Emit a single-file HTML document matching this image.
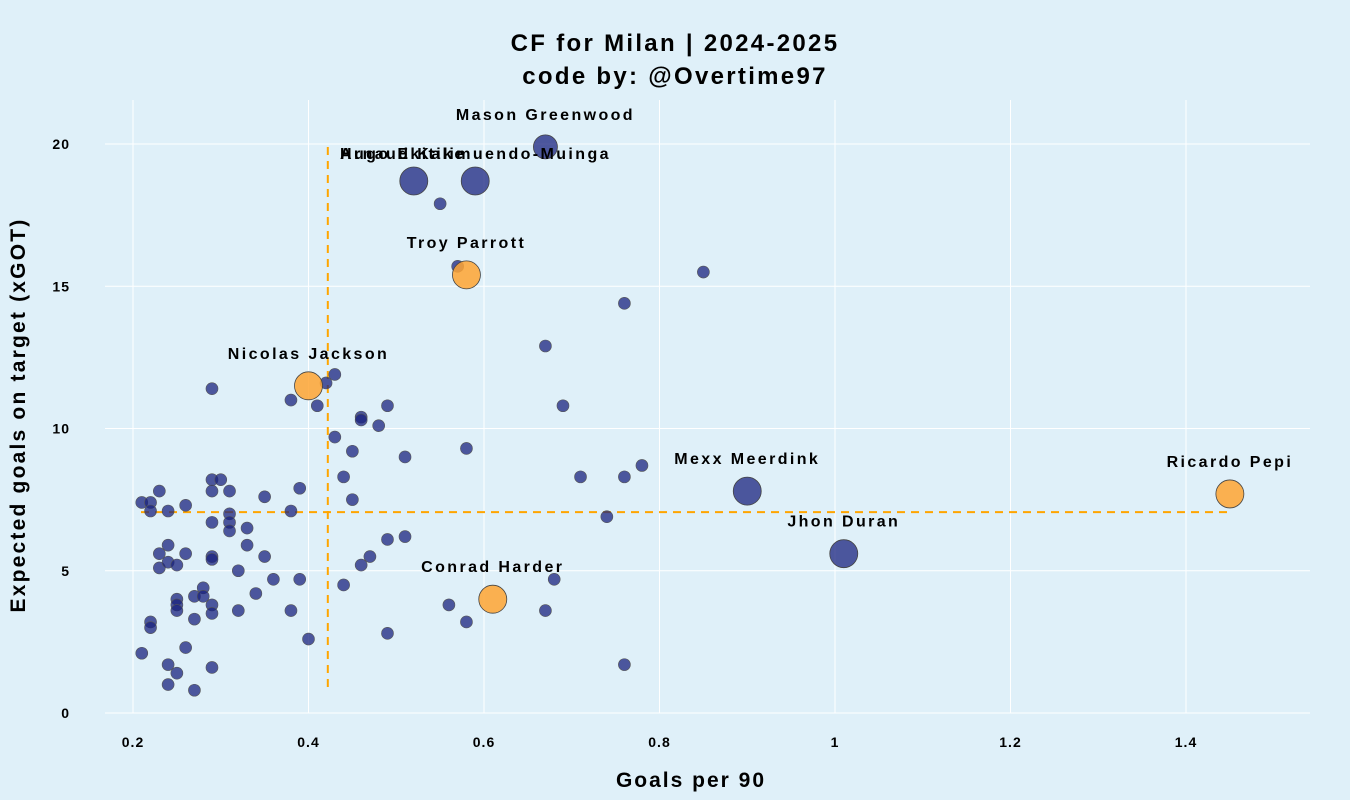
<!DOCTYPE html>
<html><head><meta charset="utf-8"><style>
body{margin:0;background:#dff0f9;}
svg{display:block;font-family:"Liberation Sans",Arial,sans-serif;font-weight:bold;}
</style></head><body>
<svg id="chart" width="1350" height="800">
<rect width="1350" height="800" fill="#dff0f9"/>
<text x="675" y="51" text-anchor="middle" font-size="24" letter-spacing="2.3">CF for Milan | 2024-2025</text>
<text x="675" y="84" text-anchor="middle" font-size="24" letter-spacing="2.3">code by: @Overtime97</text>
<text x="691" y="787" text-anchor="middle" font-size="21" letter-spacing="2">Goals per 90</text>
<text transform="translate(25,415) rotate(-90)" text-anchor="middle" font-size="21" letter-spacing="2.2">Expected goals on target (xGOT)</text>
<g id="grid"></g><g id="ticks"></g><g id="marks"></g><g id="labels"></g>
</svg>
<script>
const xTicks=[0.2,0.4,0.6,0.8,1.0,1.2,1.4];
const xTickLabels=["0.2","0.4","0.6","0.8","1","1.2","1.4"];
const yTicks=[0,5,10,15,20];
const smallX=[0.29,0.43,0.42,0.38,0.41,0.49,0.46,0.46,0.48,0.43,0.45,0.51,0.44,0.45,0.39,0.35,0.29,0.30,0.29,0.31,0.23,0.21,0.22,0.22,0.24,0.26,0.38,0.31,0.29,0.31,0.31,0.33,0.33,0.24,0.23,0.26,0.23,0.24,0.25,0.29,0.29,0.35,0.32,0.36,0.39,0.34,0.28,0.27,0.28,0.25,0.25,0.25,0.29,0.29,0.27,0.32,0.38,0.22,0.22,0.26,0.21,0.40,0.24,0.29,0.25,0.24,0.27,0.49,0.51,0.47,0.46,0.44,0.49,0.55,0.57,0.85,0.76,0.67,0.69,0.58,0.71,0.76,0.78,0.74,0.68,0.56,0.58,0.67,0.76];
const smallY=[11.4,11.9,11.6,11.0,10.8,10.8,10.4,10.3,10.1,9.7,9.2,9.0,8.3,7.5,7.9,7.6,8.2,8.2,7.8,7.8,7.8,7.4,7.4,7.1,7.1,7.3,7.1,7.0,6.7,6.7,6.4,6.5,5.9,5.9,5.6,5.6,5.1,5.3,5.2,5.5,5.4,5.5,5.0,4.7,4.7,4.2,4.4,4.1,4.1,4.0,3.8,3.6,3.8,3.5,3.3,3.6,3.6,3.2,3.0,2.3,2.1,2.6,1.7,1.6,1.4,1.0,0.8,6.1,6.2,5.5,5.2,4.5,2.8,17.9,15.7,15.5,14.4,12.9,10.8,9.3,8.3,8.3,8.7,6.9,4.7,3.8,3.2,3.6,1.7];
const bigNames=["Mason Greenwood","Hugo Ekitike","Arnaud Kalimuendo-Muinga","Troy Parrott","Nicolas Jackson","Mexx Meerdink","Ricardo Pepi","Jhon Duran","Conrad Harder"];
const bigX=[0.67,0.52,0.59,0.58,0.40,0.90,1.45,1.01,0.61];
const bigY=[19.9,18.7,18.7,15.4,11.5,7.8,7.7,5.6,4.0];
const bigOrange=[0,0,0,1,1,0,1,0,1];
const medianX=0.422, medianY=7.06;

const X=v=>133+(v-0.2)*877.5;
const Y=v=>713-v*28.45;
const NS="http://www.w3.org/2000/svg";
function mk(tag,parent,attrs){const e=document.createElementNS(NS,tag);for(const k in attrs)e.setAttribute(k,attrs[k]);parent.appendChild(e);return e;}
const grid=document.getElementById('grid'),ticks=document.getElementById('ticks'),marks=document.getElementById('marks'),labels=document.getElementById('labels');
yTicks.forEach(t=>{
  const l=mk('line',grid,{x1:105,x2:1310,y1:Y(t),y2:Y(t),stroke:'#fff','stroke-width':1});
  
  
  const tx=mk('text',ticks,{x:70,y:Y(t)+5,'text-anchor':'end','font-size':14,'letter-spacing':1});
  tx.textContent=t;
  
  
});
xTicks.forEach((t,i)=>{
  const l=mk('line',grid,{x1:X(t),x2:X(t),y1:100,y2:713,stroke:'#fff','stroke-width':1});
  
  
  const tx=mk('text',ticks,{x:X(t),y:747,'text-anchor':'middle','font-size':14,'letter-spacing':1});
  tx.textContent=xTickLabels[i];
  
  
});
const mv=mk('line',grid,{x1:X(medianX),x2:X(medianX),y1:147,y2:690,stroke:'#ffa500','stroke-width':2,'stroke-dasharray':'8,6'});


const mh=mk('line',grid,{x1:141,x2:1230,y1:Y(medianY),y2:Y(medianY),stroke:'#ffa500','stroke-width':2,'stroke-dasharray':'8,6'});


smallX.forEach((x,i)=>{
  const c=mk('circle',marks,{cx:X(x),cy:Y(smallY[i]),r:6,fill:'#1a237e','fill-opacity':0.75,stroke:'#555','stroke-width':0.6});
  
  
});
bigX.forEach((x,i)=>{
  const c=mk('circle',marks,{cx:X(x),cy:Y(bigY[i]),r:bigOrange[i]?14:(i==0?12:14),fill:bigOrange[i]?'#ffa533':'#1a237e','fill-opacity':bigOrange[i]?0.85:0.75,stroke:'#444','stroke-width':0.8});
  
  
  const t=mk('text',labels,{'font-size':16,'letter-spacing':2.4});
  if(i==1||i==2){t.setAttribute('x',340);t.setAttribute('y',Y(bigY[i])-22);}
  else{t.setAttribute('x',X(x));t.setAttribute('y',Y(bigY[i])-27);t.setAttribute('text-anchor','middle');}
  t.textContent=bigNames[i];
  
  
});
</script>
</body></html>
